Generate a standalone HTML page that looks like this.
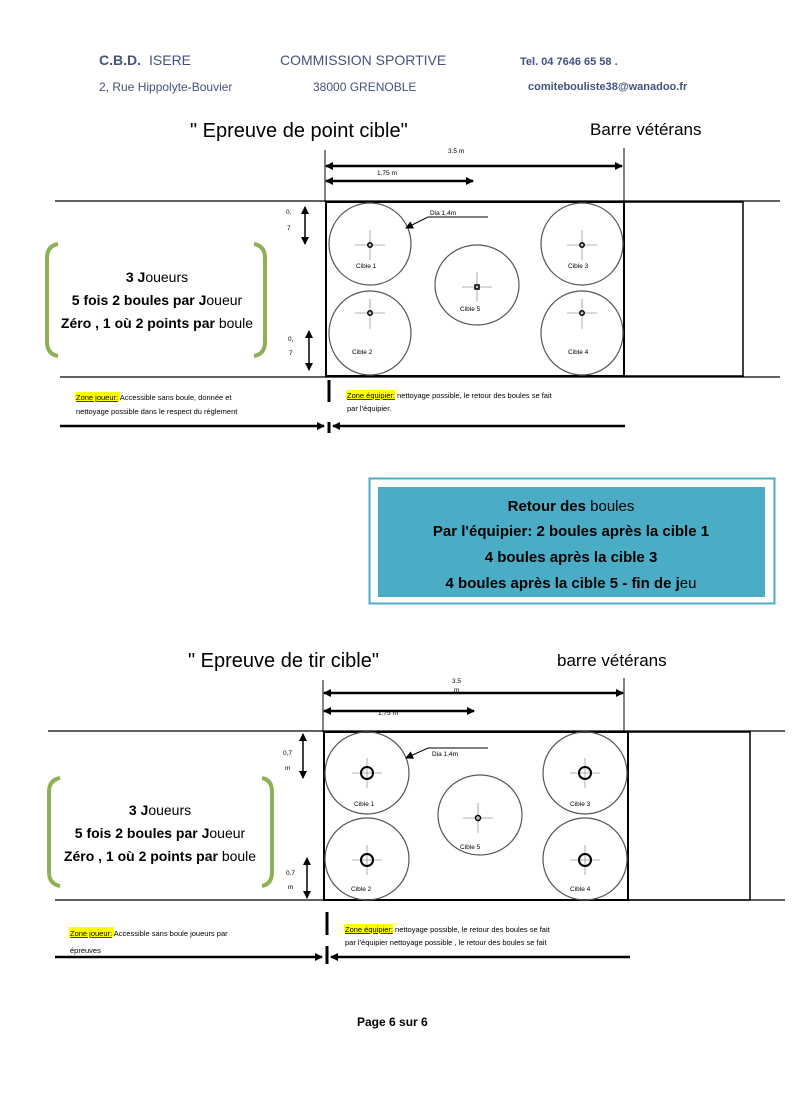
<!DOCTYPE html>
<html><head><meta charset="utf-8"><style>
html,body{margin:0;padding:0;background:#fff;}
svg{display:block;}
text{font-family:"Liberation Sans",sans-serif;}
</style></head><body>
<svg width="794" height="1112" viewBox="0 0 794 1112" xmlns="http://www.w3.org/2000/svg">
<defs>
<marker id="ar" markerWidth="8" markerHeight="8" refX="7" refY="4" orient="auto" markerUnits="userSpaceOnUse"><path d="M0,0 L8,4 L0,8 z" fill="#000"/></marker>
<marker id="al" markerWidth="8" markerHeight="8" refX="1" refY="4" orient="auto" markerUnits="userSpaceOnUse"><path d="M8,0 L0,4 L8,8 z" fill="#000"/></marker>
</defs>
<!-- header -->
<g fill="#44527f" font-size="14">
<text x="99" y="65" font-weight="bold">C.B.D.</text><text x="149" y="65">ISERE</text>
<text x="280" y="65">COMMISSION SPORTIVE</text>
<text x="520" y="65" font-size="11" font-weight="bold">Tel. 04 7646 65 58 .</text>
<text x="99" y="91" font-size="12">2, Rue Hippolyte-Bouvier</text>
<text x="313" y="91" font-size="12">38000 GRENOBLE</text>
<text x="528" y="90" font-size="11" font-weight="bold">comitebouliste38@wanadoo.fr</text>
</g>

<!-- diagram 1 -->
<text x="190" y="137" font-size="20">" Epreuve de point cible"</text>
<text x="590" y="135" font-size="17">Barre vétérans</text>
<g stroke="#000" fill="none">
<line x1="325" y1="150" x2="325" y2="202" stroke-width="1"/>
<line x1="624" y1="148" x2="624" y2="202" stroke-width="1"/>
<line x1="326" y1="166" x2="622" y2="166" stroke-width="2.5" marker-start="url(#al)" marker-end="url(#ar)"/>
<line x1="326" y1="181" x2="473" y2="181" stroke-width="2.5" marker-start="url(#al)" marker-end="url(#ar)"/>
<line x1="55" y1="201" x2="780" y2="201" stroke-width="1.2"/>
<line x1="60" y1="377" x2="780" y2="377" stroke-width="1.2"/>
<rect x="326" y="202" width="298" height="174" stroke-width="2"/>
<rect x="624" y="202" width="119" height="174" stroke-width="1.5"/>
<g stroke="#555" stroke-width="1.2">
<ellipse cx="370" cy="244" rx="41" ry="41"/><ellipse cx="370" cy="333" rx="41" ry="42"/>
<ellipse cx="582" cy="244" rx="41" ry="41"/><ellipse cx="582" cy="333" rx="41" ry="42"/>
<ellipse cx="477" cy="285" rx="42" ry="40"/>
</g>
<g stroke="#999" stroke-width="0.8">
<path d="M355,245h30M370,230v30M567,245h30M582,230v30M355,313h30M370,299v30M567,313h30M582,299v30M462,287h30M477,272v30"/>
</g>
<g stroke-width="1.5"><circle cx="370" cy="245" r="2.2"/><circle cx="582" cy="245" r="2.2"/><circle cx="370" cy="313" r="2.2"/><circle cx="582" cy="313" r="2.2"/><rect x="475" y="285" width="4" height="4"/></g>
<polyline points="488,217 428,217 406,228" stroke-width="1" marker-end="url(#ar)"/>
<line x1="305" y1="207" x2="305" y2="244" stroke-width="1.5" marker-start="url(#al)" marker-end="url(#ar)"/>
<line x1="309" y1="331" x2="309" y2="370" stroke-width="1.5" marker-start="url(#al)" marker-end="url(#ar)"/>
<line x1="329" y1="380" x2="329" y2="402" stroke-width="3"/>
<line x1="329" y1="422" x2="329" y2="433" stroke-width="3"/>
<line x1="60" y1="426" x2="324" y2="426" stroke-width="2.5" marker-end="url(#ar)"/>
<line x1="333" y1="426" x2="625" y2="426" stroke-width="2.5" marker-start="url(#al)"/>
<path d="M58,244 Q47,246 47,258 V342 Q47,354 58,356" stroke="#8eb057" stroke-width="4"/>
<path d="M254,244 Q265,246 265,258 V342 Q265,354 254,356" stroke="#8eb057" stroke-width="4"/>
</g>
<g font-size="6.5" fill="#000">
<text x="448" y="153">3.5 m</text><text x="377" y="175">1.75 m</text>
<text x="430" y="215">Dia 1,4m</text>
<text x="286" y="214">0,</text><text x="287" y="230">7</text>
<text x="288" y="341">0,</text><text x="289" y="355">7</text>
<text x="356" y="268">Cible 1</text><text x="568" y="268">Cible 3</text>
<text x="352" y="354">Cible 2</text><text x="568" y="354">Cible 4</text>
<text x="460" y="311">Cible 5</text>
</g>
<g font-size="14" text-anchor="middle" fill="#000">
<text x="157" y="282"><tspan font-weight="bold">3 J</tspan>oueurs</text>
<text x="157" y="305"><tspan font-weight="bold">5 fois 2 boules par J</tspan>oueur</text>
<text x="157" y="328"><tspan font-weight="bold">Zéro , 1 où 2 points par</tspan> boule</text>
</g>
<g font-size="7.5" fill="#000">
<rect x="75" y="392" width="45" height="9" fill="#ffff00"/>
<text x="76" y="400"><tspan text-decoration="underline">Zone joueur:</tspan> Accessible sans boule, donnée et</text>
<text x="76" y="414">nettoyage possible dans le respect du règlement</text>
<rect x="346" y="390" width="49" height="9" fill="#ffff00"/>
<text x="347" y="398"><tspan text-decoration="underline">Zone équipier:</tspan> nettoyage possible, le retour des boules se fait</text>
<text x="347" y="411">par l'équipier.</text>
</g>

<!-- blue box -->
<rect x="369.5" y="478.5" width="405" height="125" fill="none" stroke="#4bacc6" stroke-width="2"/>
<rect x="378" y="487" width="387" height="110" fill="#4bacc6"/>
<g font-size="15" text-anchor="middle" font-weight="bold" fill="#000">
<text x="571" y="511">Retour des <tspan font-weight="normal">boules</tspan></text>
<text x="571" y="536">Par l'équipier:  2 boules après la cible 1</text>
<text x="571" y="562">4 boules après la cible 3</text>
<text x="571" y="588">4 boules après la cible 5 -  fin de j<tspan font-weight="normal">eu</tspan></text>
</g>

<!-- diagram 2 -->
<text x="188" y="667" font-size="20">" Epreuve de tir cible"</text>
<text x="557" y="666" font-size="17">barre vétérans</text>
<g stroke="#000" fill="none">
<line x1="323" y1="680" x2="323" y2="732" stroke-width="1"/>
<line x1="624" y1="678" x2="624" y2="732" stroke-width="1"/>
<line x1="324" y1="693" x2="623" y2="693" stroke-width="2.5" marker-start="url(#al)" marker-end="url(#ar)"/>
<line x1="324" y1="711" x2="474" y2="711" stroke-width="2.5" marker-start="url(#al)" marker-end="url(#ar)"/>
<line x1="48" y1="731" x2="785" y2="731" stroke-width="1.2"/>
<line x1="55" y1="900" x2="785" y2="900" stroke-width="1.2"/>
<rect x="324" y="732" width="304" height="168" stroke-width="2"/>
<rect x="628" y="732" width="122" height="168" stroke-width="1.5"/>
<g stroke="#555" stroke-width="1.2">
<ellipse cx="367" cy="773" rx="42" ry="41"/><ellipse cx="367" cy="859" rx="42" ry="41"/>
<ellipse cx="585" cy="773" rx="42" ry="41"/><ellipse cx="585" cy="859" rx="42" ry="41"/>
<ellipse cx="480" cy="815" rx="42" ry="40"/>
</g>
<g stroke="#999" stroke-width="0.8">
<path d="M352,773h30M367,758v30M570,773h30M585,758v30M352,860h30M367,845v30M570,860h30M585,845v30M463,818h30M478,803v30"/>
</g>
<g stroke-width="2"><circle cx="367" cy="773" r="6"/><circle cx="585" cy="773" r="6"/><circle cx="367" cy="860" r="6"/><circle cx="585" cy="860" r="6"/><circle cx="478" cy="818" r="2.5" stroke-width="1.5"/></g>
<polyline points="488,748 428,748 406,758" stroke-width="1" marker-end="url(#ar)"/>
<line x1="303" y1="734" x2="303" y2="778" stroke-width="1.5" marker-start="url(#al)" marker-end="url(#ar)"/>
<line x1="307" y1="858" x2="307" y2="898" stroke-width="1.5" marker-start="url(#al)" marker-end="url(#ar)"/>
<line x1="327" y1="912" x2="327" y2="935" stroke-width="3"/>
<line x1="327" y1="946" x2="327" y2="964" stroke-width="3"/>
<line x1="55" y1="957" x2="322" y2="957" stroke-width="2.5" marker-end="url(#ar)"/>
<line x1="331" y1="957" x2="630" y2="957" stroke-width="2.5" marker-start="url(#al)"/>
<path d="M60,778 Q49,780 49,792 V872 Q49,884 60,886" stroke="#8eb057" stroke-width="4"/>
<path d="M262,778 Q272,780 272,792 V872 Q272,884 262,886" stroke="#8eb057" stroke-width="4"/>
</g>
<g font-size="6.5" fill="#000">
<text x="452" y="683">3.5</text><text x="454" y="692">m</text><text x="378" y="715">1.75 m</text>
<text x="432" y="756">Dia 1,4m</text>
<text x="283" y="755">0,7</text><text x="285" y="770">m</text>
<text x="286" y="875">0,7</text><text x="288" y="889">m</text>
<text x="354" y="806">Cible 1</text><text x="570" y="806">Cible 3</text>
<text x="351" y="891">Cible 2</text><text x="570" y="891">Cible 4</text>
<text x="460" y="849">Cible 5</text>
</g>
<g font-size="14" text-anchor="middle" fill="#000">
<text x="160" y="815"><tspan font-weight="bold">3 J</tspan>oueurs</text>
<text x="160" y="838"><tspan font-weight="bold">5 fois 2 boules par J</tspan>oueur</text>
<text x="160" y="861"><tspan font-weight="bold">Zéro , 1 où 2 points par</tspan> boule</text>
</g>
<g font-size="7.5" fill="#000">
<rect x="69" y="927" width="45" height="10" fill="#ffff00"/>
<text x="70" y="936"><tspan text-decoration="underline">Zone joueur:</tspan> Accessible sans boule  joueurs par</text>
<text x="70" y="953">épreuves</text>
<rect x="344" y="924" width="49" height="9" fill="#ffff00"/>
<text x="345" y="932"><tspan text-decoration="underline">Zone équipier:</tspan> nettoyage possible, le retour des boules se fait</text>
<text x="345" y="945">par l'équipier nettoyage possible , le retour des boules se fait</text>
</g>

<text x="357" y="1026" font-size="12" font-weight="bold">Page 6 sur 6</text>
</svg>
</body></html>
